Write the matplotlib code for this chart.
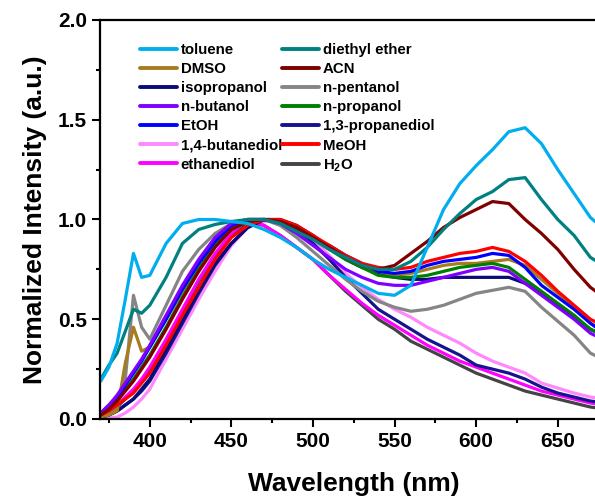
import matplotlib
matplotlib.use("Agg")
import matplotlib.pyplot as plt
from matplotlib.ticker import MultipleLocator
import numpy as np

plt.rcParams['font.family'] = ['Liberation Sans', 'DejaVu Sans']
plt.rcParams['font.weight'] = 'bold'
plt.rcParams['mathtext.fontset'] = 'custom'
plt.rcParams['mathtext.rm'] = 'Liberation Sans:bold'
plt.rcParams['mathtext.it'] = 'Liberation Sans:bold'
plt.rcParams['mathtext.bf'] = 'Liberation Sans:bold'

wavelength = [370, 375, 380, 385, 390, 395, 400, 410, 420, 430, 440, 450, 460, 470, 480,
              490, 500, 510, 520, 530, 540, 550, 560, 570, 580, 590, 600, 610, 620, 630,
              640, 650, 660, 670, 680]

toluene = [0.19, 0.26, 0.38, 0.60, 0.83, 0.71, 0.72, 0.88, 0.98, 1.00, 1.00, 0.99, 0.98, 0.95, 0.91,
           0.86, 0.80, 0.75, 0.71, 0.67, 0.63, 0.62, 0.67, 0.86, 1.05, 1.18, 1.27, 1.35, 1.44, 1.46,
           1.38, 1.25, 1.13, 1.01, 0.94]
diethyl_ether = [0.20, 0.27, 0.33, 0.44, 0.55, 0.53, 0.57, 0.71, 0.88, 0.95, 0.975, 0.99, 1.00, 1.00, 0.98,
                 0.94, 0.90, 0.85, 0.81, 0.77, 0.75, 0.75, 0.79, 0.86, 0.95, 1.03, 1.10, 1.14, 1.20, 1.21,
                 1.10, 1.00, 0.92, 0.81, 0.76]
dmso = [0.01, 0.02, 0.04, 0.28, 0.46, 0.34, 0.36, 0.50, 0.64, 0.77, 0.88, 0.96, 1.00, 1.00, 0.99,
        0.96, 0.91, 0.86, 0.81, 0.77, 0.74, 0.72, 0.73, 0.75, 0.77, 0.78, 0.78, 0.79, 0.80, 0.77,
        0.70, 0.63, 0.56, 0.48, 0.44]
acn = [0.02, 0.05, 0.09, 0.14, 0.19, 0.25, 0.31, 0.45, 0.60, 0.74, 0.86, 0.95, 0.99, 1.00, 0.99,
       0.96, 0.91, 0.86, 0.81, 0.77, 0.75, 0.77, 0.83, 0.89, 0.96, 1.01, 1.05, 1.09, 1.08, 1.00,
       0.93, 0.85, 0.75, 0.66, 0.60]
isopropanol = [0.01, 0.02, 0.04, 0.07, 0.10, 0.15, 0.20, 0.35, 0.50, 0.65, 0.78, 0.88, 0.96, 1.00, 1.00,
               0.97, 0.92, 0.86, 0.80, 0.76, 0.73, 0.71, 0.70, 0.70, 0.71, 0.71, 0.71, 0.71, 0.71, 0.68,
               0.63, 0.57, 0.51, 0.45, 0.41]
n_pentanol = [0.01, 0.03, 0.06, 0.20, 0.62, 0.46, 0.40, 0.57, 0.74, 0.85, 0.93, 0.98, 1.00, 1.00, 0.97,
              0.91, 0.84, 0.77, 0.70, 0.64, 0.59, 0.56, 0.54, 0.55, 0.57, 0.60, 0.63, 0.645, 0.66, 0.64,
              0.56, 0.49, 0.42, 0.33, 0.29]
n_butanol = [0.03, 0.07, 0.12, 0.18, 0.24, 0.30, 0.37, 0.52, 0.67, 0.80, 0.91, 0.98, 1.00, 1.00, 0.98,
             0.93, 0.87, 0.81, 0.75, 0.71, 0.68, 0.67, 0.67, 0.69, 0.71, 0.73, 0.75, 0.76, 0.74, 0.68,
             0.62, 0.56, 0.50, 0.43, 0.39]
n_propanol = [0.03, 0.06, 0.10, 0.15, 0.20, 0.26, 0.32, 0.46, 0.61, 0.75, 0.87, 0.95, 0.99, 1.00, 0.99,
              0.96, 0.91, 0.85, 0.80, 0.76, 0.72, 0.71, 0.71, 0.72, 0.74, 0.76, 0.77, 0.78, 0.76, 0.70,
              0.64, 0.58, 0.52, 0.45, 0.41]
etoh = [0.03, 0.07, 0.11, 0.17, 0.23, 0.29, 0.36, 0.50, 0.65, 0.78, 0.89, 0.97, 1.00, 1.00, 0.99,
        0.96, 0.91, 0.87, 0.82, 0.78, 0.74, 0.73, 0.74, 0.77, 0.79, 0.80, 0.81, 0.83, 0.82, 0.76,
        0.67, 0.61, 0.55, 0.48, 0.42]
propanediol_13 = [0.01, 0.02, 0.04, 0.07, 0.10, 0.14, 0.19, 0.33, 0.48, 0.63, 0.77, 0.88, 0.96, 1.00, 0.99,
                  0.95, 0.88, 0.80, 0.71, 0.63, 0.55, 0.50, 0.45, 0.40, 0.36, 0.32, 0.27, 0.25, 0.23, 0.20,
                  0.16, 0.13, 0.11, 0.09, 0.08]
butanediol_14 = [0.00, 0.005, 0.01, 0.03, 0.06, 0.10, 0.15, 0.30, 0.45, 0.60, 0.74, 0.87, 0.96, 0.99, 1.00,
                 0.96, 0.90, 0.82, 0.73, 0.66, 0.60, 0.55, 0.51, 0.46, 0.42, 0.38, 0.33, 0.29, 0.26, 0.23,
                 0.18, 0.155, 0.13, 0.11, 0.10]
meoh = [0.02, 0.04, 0.07, 0.10, 0.13, 0.18, 0.23, 0.37, 0.52, 0.66, 0.80, 0.91, 0.97, 1.00, 1.00,
        0.97, 0.92, 0.87, 0.82, 0.78, 0.76, 0.75, 0.76, 0.79, 0.81, 0.83, 0.84, 0.86, 0.84, 0.79,
        0.72, 0.64, 0.57, 0.50, 0.46]
ethanediol = [0.02, 0.04, 0.07, 0.11, 0.15, 0.20, 0.26, 0.40, 0.55, 0.70, 0.83, 0.93, 1.00, 0.97, 0.92,
              0.86, 0.80, 0.72, 0.65, 0.58, 0.52, 0.47, 0.42, 0.37, 0.33, 0.29, 0.26, 0.23, 0.20, 0.17,
              0.14, 0.12, 0.10, 0.08, 0.07]
h2o = [0.02, 0.04, 0.06, 0.10, 0.14, 0.19, 0.25, 0.39, 0.54, 0.69, 0.82, 0.92, 0.99, 0.97, 0.92,
       0.86, 0.80, 0.72, 0.64, 0.57, 0.50, 0.45, 0.39, 0.35, 0.31, 0.27, 0.23, 0.20, 0.17, 0.14,
       0.12, 0.10, 0.08, 0.06, 0.05]

series = [
    ("toluene", toluene, "#00AEEF"),
    ("DMSO", dmso, "#A67C1E"),
    ("isopropanol", isopropanol, "#0A0A78"),
    ("n-butanol", n_butanol, "#8000FF"),
    ("EtOH", etoh, "#0000FF"),
    ("1,4-butanediol", butanediol_14, "#FF88FF"),
    ("ethanediol", ethanediol, "#FF00FF"),
    ("diethyl ether", diethyl_ether, "#008080"),
    ("ACN", acn, "#800000"),
    ("n-pentanol", n_pentanol, "#858585"),
    ("n-propanol", n_propanol, "#008000"),
    ("1,3-propanediol", propanediol_13, "#14148C"),
    ("MeOH", meoh, "#FF0000"),
    (r"H$_{2}$O", h2o, "#444444"),
]

W, H = 595, 497
fig = plt.figure(figsize=(W / 100, H / 100), dpi=100)
x0, x1 = 369.5, 680
px_per_nm = 81.6 / 50
ax_w = (x1 - x0) * px_per_nm
ax = fig.add_axes([100 / W, 78 / H, ax_w / W, 399 / H])

lines = {}
draw_order = ["1,4-butanediol", r"H$_{2}$O", "ethanediol", "1,3-propanediol", "isopropanol",
              "n-pentanol", "DMSO", "n-propanol", "EtOH", "n-butanol", "MeOH", "ACN",
              "diethyl ether", "toluene"]
lookup = {name: (vals, col) for name, vals, col in series}
for name in draw_order:
    vals, col = lookup[name]
    ln, = ax.plot(wavelength, vals, color=col, lw=2.3, label=name, solid_capstyle='round',
                  solid_joinstyle='round')
    lines[name] = ln

ax.set_xlim(x0, x1)
ax.set_ylim(0, 2.0)
ax.xaxis.set_major_locator(MultipleLocator(50))
ax.xaxis.set_minor_locator(MultipleLocator(25))
ax.yaxis.set_major_locator(MultipleLocator(0.5))
ax.yaxis.set_minor_locator(MultipleLocator(0.25))
ax.yaxis.set_major_formatter(matplotlib.ticker.FormatStrFormatter('%.1f'))
ax.tick_params(which='major', direction='out', length=5.5, width=1.5, labelsize=15, pad=4)
ax.tick_params(which='minor', direction='out', length=3, width=1.5)
for lab in ax.get_xticklabels() + ax.get_yticklabels():
    lab.set_fontweight('bold')
for sp in ax.spines.values():
    sp.set_linewidth(1.6)

ax.set_xlabel("Wavelength (nm)", fontsize=19, fontweight='bold', labelpad=15)
ax.set_ylabel("Normalized Intensity (a.u.)", fontsize=19, fontweight='bold', labelpad=8)

order = [name for name, _, _ in series]
handles = [lines[n] for n in order]
leg = fig.legend(handles, order, loc='upper left', bbox_to_anchor=(140 / W, 1 - 43 / H),
                 ncol=2, frameon=False, prop={'weight': 'bold', 'size': 10.8},
                 handlelength=2.45, handletextpad=0.27, labelspacing=0.34, columnspacing=0.0,
                 borderpad=0, borderaxespad=0)
for ln in leg.get_lines():
    ln.set_linewidth(2.8)

fig.savefig("out.png", dpi=100)
